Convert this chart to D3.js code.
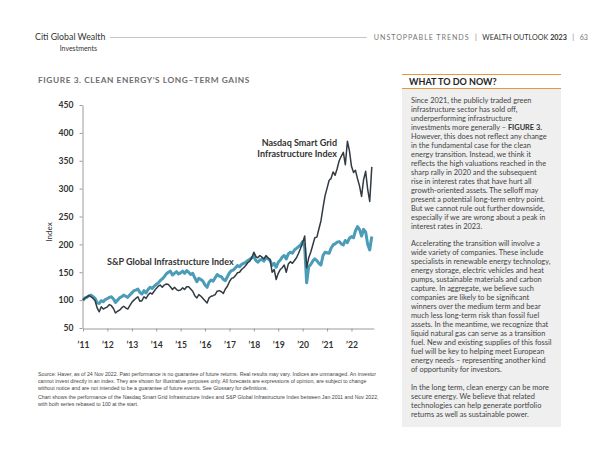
<!DOCTYPE html>
<html><head><meta charset="utf-8">
<script src="https://cdn.jsdelivr.net/npm/d3@7"></script>
<style>
html,body{margin:0;padding:0;background:#fff;}
svg{display:block;}
</style></head>
<body>
<svg id="c" width="600" height="463"></svg>
<script>
// ---- DATA ----
const yearTicks = [2011,2012,2013,2014,2015,2016,2017,2018,2019,2020,2021,2022];
const yTicks = [50,100,150,200,250,300,350,400,450];
// monthly, Jan 2011 .. Nov 2022
const spGlobal = [
 100,104,105,108,109,106,103,95,94,99,97,101,
 103,105,106,102,96,100,104,106,109,107,105,109,
 113,117,118,120,114,111,117,113,119,123,121,125,
 128,131,135,138,142,147,150,152,145,148,151,147,
 149,152,148,153,150,146,148,140,133,139,137,134,
 127,123,132,136,134,140,146,143,142,137,135,142,
 149,153,154,158,162,160,164,166,168,171,173,176,
 179,171,168,172,173,170,176,174,171,162,166,159,
 168,172,177,180,174,183,186,184,190,193,196,199,
 205,194,131,160,164,170,174,171,166,163,180,186,
 185,184,193,199,201,204,205,201,199,207,203,211,
 214,212,224,232,227,215,227,222,200,190,214
];
const nasdaqGrid = [
 100,104,106,108,106,103,99,86,79,88,84,86,
 88,92,90,85,77,80,82,86,89,86,84,90,
 96,100,103,106,98,99,106,103,109,113,111,116,
 121,125,127,123,127,129,128,124,119,123,119,117,
 118,122,119,124,124,120,116,108,104,110,107,103,
 99,95,104,107,108,110,116,117,115,112,120,125,
 133,139,140,144,149,150,155,158,162,167,170,176,
 186,178,176,180,177,174,180,176,173,150,155,137,
 148,155,158,163,150,165,169,166,171,176,184,193,
 203,215,158,176,186,199,212,213,228,242,266,287,
 301,315,318,330,324,336,350,358,365,343,385,368,
 340,329,333,318,305,286,316,331,298,277,339
];
const seriesNames = ["S&P Global Infrastructure Index", "Nasdaq Smart Grid", "Infrastructure Index"];
const para1 = [
 "Since 2021, the publicly traded green",
 "infrastructure sector has sold off,",
 "underperforming infrastructure",
 "investments more generally – |FIGURE 3.",
 "However, this does not reflect any change",
 "in the fundamental case for the clean",
 "energy transition. Instead, we think it",
 "reflects the high valuations reached in the",
 "sharp rally in 2020 and the subsequent",
 "rise in interest rates that have hurt all",
 "growth-oriented assets. The selloff may",
 "present a potential long-term entry point.",
 "But we cannot rule out further downside,",
 "especially if we are wrong about a peak in",
 "interest rates in 2023."
];
const para2 = [
 "Accelerating the transition will involve a",
 "wide variety of companies. These include",
 "specialists in renewable energy technology,",
 "energy storage, electric vehicles and heat",
 "pumps, sustainable materials and carbon",
 "capture. In aggregate, we believe such",
 "companies are likely to be significant",
 "winners over the medium term and bear",
 "much less long-term risk than fossil fuel",
 "assets. In the meantime, we recognize that",
 "liquid natural gas can serve as a transition",
 "fuel. New and existing supplies of this fossil",
 "fuel will be key to helping meet European",
 "energy needs – representing another kind",
 "of opportunity for investors."
];
const para3 = [
 "In the long term, clean energy can be more",
 "secure energy. We believe that related",
 "technologies can help generate portfolio",
 "returns as well as sustainable power."
];
const footLines = [
 "Source: Haver, as of 24 Nov 2022. Past performance is no guarantee of future returns. Real results may vary. Indices are unmanaged. An investor",
 "cannot invest directly in an index. They are shown for illustrative purposes only. All forecasts are expressions of opinion, are subject to change",
 "without notice and are not intended to be a guarantee of future events. See Glossary for definitions.",
 "Chart shows the performance of the Nasdaq Smart Grid Infrastructure Index and S&P Global Infrastructure Index between Jan 2011 and Nov 2022,",
 "with both series rebased to 100 at the start."
];

// ---- DRAW ----
const svg = d3.select("#c");
const F = "Lato, 'Open Sans', sans-serif";
const months = d3.timeMonth.range(new Date(2011,0,1), new Date(2022,11,1));

// header
svg.append("text").attr("x",35).attr("y",40).attr("font-family",F).attr("font-size",8.8).attr("fill","#333").text("Citi Global Wealth");
svg.append("text").attr("x",97).attr("y",51).attr("text-anchor","end").attr("font-family",F).attr("font-size",7).attr("fill","#333").text("Investments");
const hdr = svg.append("text").attr("x",588).attr("y",40).attr("text-anchor","end").attr("font-family",F).attr("font-size",7.2).style("white-space","pre");
hdr.append("tspan").attr("fill","#777").attr("letter-spacing",0.9).text("UNSTOPPABLE TRENDS");
hdr.append("tspan").attr("fill","#777").text("   |   ");
hdr.append("tspan").attr("fill","#333").text("WEALTH OUTLOOK ");
hdr.append("tspan").attr("fill","#333").attr("font-weight",700).text("2023");
hdr.append("tspan").attr("fill","#777").text("   |   63");
const hb = hdr.node().getBBox();
svg.insert("line","text").attr("x1",110).attr("x2",hb.x-7).attr("y1",37.5).attr("y2",37.5).attr("stroke","#c4c4c4").attr("stroke-width",1);

// title
svg.append("text").attr("x",38).attr("y",83).attr("font-family",F).attr("font-size",8.3).attr("font-weight",700)
  .attr("letter-spacing",0.6).attr("fill","#6e6e6e").text("FIGURE 3. CLEAN ENERGY’S LONG–TERM GAINS");

// scales
const x = d3.scaleTime().domain([new Date(2011,0,1), new Date(2022,11,1)]).range([83, 373.8]);
const y = d3.scaleLinear().domain([50,450]).range([328,105]);

// axes
const yAx = svg.append("g").attr("transform","translate(82.5,0)")
  .call(d3.axisLeft(y).tickValues(yTicks).tickSize(3).tickSizeOuter(0).tickPadding(6));
yAx.select(".domain").attr("stroke","#9a9a9a");
yAx.selectAll(".tick line").attr("stroke","#9a9a9a");
yAx.selectAll("text").attr("font-family",F).attr("font-size",8.6).attr("font-weight",700).attr("fill","#333");

const xAx = svg.append("g").attr("transform","translate(0,328.5)")
  .call(d3.axisBottom(x).tickValues(yearTicks.map(v=>new Date(v,0,1))).tickFormat(d=>"’"+String(d.getFullYear()).slice(2))
    .tickSize(3).tickSizeOuter(0).tickPadding(10));
xAx.select(".domain").attr("stroke","#9a9a9a");
xAx.selectAll(".tick line").attr("stroke","#9a9a9a");
xAx.selectAll("text").attr("font-family",F).attr("font-size",8.6).attr("font-weight",700).attr("fill","#333");

svg.append("text").attr("transform","translate(52,232) rotate(-90)").attr("text-anchor","middle")
  .attr("font-family",F).attr("font-size",8).attr("fill","#333").text("Index");

// lines
const line = d3.line().x((d,i)=>x(months[i])).y(d=>y(d)).curve(d3.curveLinear);
svg.append("path").datum(spGlobal).attr("d",line).attr("fill","none").attr("stroke","#4a9cb7").attr("stroke-width",3).attr("stroke-linejoin","round");
svg.append("path").datum(nasdaqGrid).attr("d",line).attr("fill","none").attr("stroke","#323a42").attr("stroke-width",1.5).attr("stroke-linejoin","round");

// annotations
svg.append("text").attr("x",107).attr("y",264.5).attr("font-family",F).attr("font-size",9).attr("font-weight",700).attr("fill","#333").text(seriesNames[0]);
svg.append("text").attr("x",337).attr("y",145.5).attr("text-anchor","end").attr("font-family",F).attr("font-size",9).attr("font-weight",700).attr("fill","#333").text(seriesNames[1]);
svg.append("text").attr("x",337).attr("y",156.5).attr("text-anchor","end").attr("font-family",F).attr("font-size",9).attr("font-weight",700).attr("fill","#333").text(seriesNames[2]);

// right panel
svg.append("rect").attr("x",402).attr("y",89).attr("width",159).attr("height",338).attr("fill","#efefef");
svg.append("line").attr("x1",402).attr("x2",561).attr("y1",74.5).attr("y2",74.5).attr("stroke","#e39a3b").attr("stroke-width",1.2);
svg.append("line").attr("x1",402).attr("x2",561).attr("y1",88.5).attr("y2",88.5).attr("stroke","#e39a3b").attr("stroke-width",1.2);
svg.append("text").attr("x",409).attr("y",85).attr("font-family",F).attr("font-size",9).attr("font-weight",700).attr("fill","#222").text("WHAT TO DO NOW?");

function para(lines, y0){
  lines.forEach((s,i)=>{
    const t = svg.append("text").attr("x",411).attr("y",y0+i*9.07).attr("font-family",F).attr("font-size",7.4).attr("fill","#444");
    const parts = s.split("|");
    t.append("tspan").text(parts[0]);
    if(parts[1]) t.append("tspan").attr("font-weight",700).attr("fill","#333").text(parts[1]);
  });
}
para(para1, 102.5);
para(para2, 245.5);
para(para3, 389.5);

// footnote
const fy = [376,383,390,399,406];
const ft = footLines.map((s,i)=>svg.append("text").attr("x",38).attr("y",fy[i]).attr("font-family","'Liberation Sans', Arial, sans-serif").attr("font-size",6).attr("fill","#444").text(s));
const ratio = 338/ft[0].node().getComputedTextLength();
ft.forEach(t=>{const w=t.node().getComputedTextLength(); t.attr("textLength",w*ratio).attr("lengthAdjust","spacingAndGlyphs");});
</script>
</body></html>
